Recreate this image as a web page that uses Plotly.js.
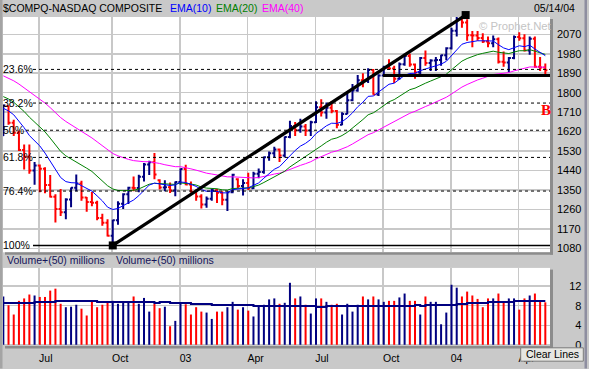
<!DOCTYPE html>
<html><head><meta charset="utf-8">
<script src="https://cdn.plot.ly/plotly-3.0.1.min.js"></script>
<style>html,body{margin:0;padding:0;background:#c9c9c9;overflow:hidden}#chart{width:589px;height:369px}</style>
</head><body><div id="chart"></div>
<script>
// ---------- DATA (weekly bars, week starting Monday) ----------
const dates = ['2002-05-13','2002-05-20','2002-05-27','2002-06-03','2002-06-10','2002-06-17','2002-06-24','2002-07-01','2002-07-08','2002-07-15','2002-07-22','2002-07-29','2002-08-05','2002-08-12','2002-08-19','2002-08-26','2002-09-02','2002-09-09','2002-09-16','2002-09-23','2002-09-30','2002-10-07','2002-10-14','2002-10-21','2002-10-28','2002-11-04','2002-11-11','2002-11-18','2002-11-25','2002-12-02','2002-12-09','2002-12-16','2002-12-23','2002-12-30',
'2003-01-06','2003-01-13','2003-01-20','2003-01-27','2003-02-03','2003-02-10','2003-02-17','2003-02-24','2003-03-03','2003-03-10','2003-03-17','2003-03-24','2003-03-31','2003-04-07','2003-04-14','2003-04-21','2003-04-28','2003-05-05','2003-05-12','2003-05-19','2003-05-26','2003-06-02','2003-06-09','2003-06-16','2003-06-23','2003-06-30','2003-07-07','2003-07-14','2003-07-21','2003-07-28','2003-08-04','2003-08-11','2003-08-18','2003-08-25','2003-09-01','2003-09-08','2003-09-15','2003-09-22','2003-09-29','2003-10-06','2003-10-13','2003-10-20','2003-10-27','2003-11-03','2003-11-10','2003-11-17','2003-11-24','2003-12-01','2003-12-08','2003-12-15','2003-12-22','2003-12-29',
'2004-01-05','2004-01-12','2004-01-19','2004-01-26','2004-02-02','2004-02-09','2004-02-16','2004-02-23','2004-03-01','2004-03-08','2004-03-15','2004-03-22','2004-03-29','2004-04-05','2004-04-12','2004-04-19','2004-04-26','2004-05-03','2004-05-10'];

const open = [1602,1738,1661,1615,1535,1504,1440,1463,1448,1373, 1319,1262,1247,1306,1361,1380,1315,1295,1291,1221, 1199,1139,1210,1287,1331,1361,1359,1411,1468,1479, 1395,1362,1363,1348,1387,1447,1376,1342,1320,1283, 1310,1349,1337,1305,1340,1400,1369,1383,1358,1425, 1434,1502,1520,1538,1510,1595,1646,1626,1644,1625, 1663,1733,1708,1730,1715,1652,1702,1765,1810,1858, 1855,1905,1792,1880,1915,1912,1865,1932,1970,1930, 1893,1960,1937,1949,1951,1973,2006,2086,2140,2124, 2066,2064,2053,2037,2029,2047,1943,1940,1960,2057, 2052,1995,2050,1920,1917];
const high = [1745,1740,1675,1625,1560,1560,1480,1468,1455,1420, 1330,1355,1312,1362,1422,1393,1318,1341,1300,1240, 1215,1213,1298,1335,1365,1413,1421,1475,1485,1521, 1400,1395,1385,1390,1450,1467,1390,1352,1330,1320, 1355,1355,1345,1345,1425,1405,1400,1430,1435,1450, 1505,1528,1550,1542,1598,1670,1665,1680,1655,1670, 1760,1770,1755,1760,1720,1710,1800,1840,1882,1890, 1913,1910,1885,1925,1955,1925,1940,1980,1980,1935, 1965,1995,1955,1965,1975,2010,2100,2150,2154,2140, 2085,2085,2075,2060,2065,2055,1990,1965,2065,2080, 2070,2060,2060,1965,1935];
const low = [1600,1652,1600,1530,1445,1425,1375,1340,1335,1315, 1200,1230,1215,1270,1345,1300,1250,1275,1210,1185, 1135,1108,1190,1262,1285,1345,1340,1390,1420,1400, 1352,1345,1336,1321,1375,1372,1338,1300,1265,1268, 1300,1290,1280,1253,1335,1360,1325,1350,1355,1405, 1425,1485,1500,1480,1500,1590,1600,1615,1600,1600, 1660,1690,1680,1705,1636,1650,1700,1760,1805,1825, 1845,1790,1785,1875,1905,1845,1860,1925,1920,1865, 1885,1925,1900,1900,1925,1950,2000,2060,2100,2040, 2010,2040,2030,2010,2010,1935,1920,1895,1955,2040, 1990,1975,1915,1900,1880];
const close = [1741,1661,1615,1535,1504,1440,1463,1448,1373,1319, 1262,1247,1306,1361,1380,1315,1295,1291,1221,1199, 1139,1210,1287,1331,1361,1359,1411,1468,1479,1422, 1362,1363,1348,1387,1447,1376,1342,1320,1283,1310, 1349,1337,1305,1340,1421,1369,1383,1358,1425,1434, 1502,1520,1538,1510,1595,1646,1626,1644,1625,1663, 1733,1708,1730,1715,1652,1702,1765,1810,1858,1855, 1905,1792,1880,1915,1912,1865,1932,1970,1930,1893, 1960,1937,1949,1951,1973,2006,2086,2140,2124,2066, 2064,2053,2037,2029,2047,1943,1940,1960,2057,2052, 1995,2050,1920,1917,1904];

const ema10 = [1728,1716,1698,1668,1638,1602,1577,1554,1521,1484, 1444,1408,1389,1384,1383,1371,1357,1345,1323,1300, 1271,1260,1265,1277,1292,1304,1324,1350,1373,1382, 1379,1376,1371,1374,1387,1385,1377,1367,1352,1344, 1345,1344,1337,1337,1352,1355,1360,1360,1372,1383, 1405,1426,1446,1458,1483,1512,1533,1553,1566,1584, 1611,1629,1647,1659,1658,1666,1684,1707,1735,1756, 1783,1785,1802,1823,1839,1844,1860,1880,1889,1890, 1902,1909,1916,1922,1932,1945,1971,2002,2024,2032, 2037,2040,2040,2038,2039,2022,2007,1999,2009,2017, 2013,2020,2002,1986,1971];
const ema20 = [1782,1771,1756,1735,1713,1687,1665,1645,1619,1590, 1559,1529,1508,1494,1483,1467,1451,1436,1415,1395, 1370,1355,1348,1347,1348,1349,1355,1366,1377,1381, 1379,1378,1375,1376,1383,1382,1378,1373,1364,1359, 1358,1356,1351,1350,1357,1358,1361,1360,1366,1373, 1385,1398,1411,1421,1437,1457,1473,1490,1502,1518, 1538,1554,1571,1585,1591,1602,1617,1636,1657,1676, 1698,1707,1723,1741,1758,1768,1783,1801,1814,1821, 1834,1844,1854,1863,1874,1886,1905,1928,1946,1958, 1968,1976,1982,1986,1992,1987,1983,1981,1988,1994, 1994,1999,1992,1985,1977];
const ema40 = [1878,1867,1855,1840,1823,1804,1788,1771,1752,1731, 1708,1685,1667,1652,1639,1623,1607,1591,1573,1555, 1535,1519,1508,1499,1492,1486,1482,1481,1481,1478, 1473,1467,1462,1458,1458,1454,1448,1442,1434,1428, 1424,1420,1414,1411,1411,1409,1408,1405,1406,1408, 1412,1418,1424,1428,1436,1446,1455,1464,1472,1481, 1494,1504,1515,1525,1531,1539,1550,1563,1578,1591, 1606,1615,1628,1642,1656,1666,1679,1693,1705,1714, 1726,1736,1746,1756,1767,1779,1794,1811,1826,1838, 1849,1859,1867,1875,1884,1887,1889,1893,1901,1908, 1912,1919,1919,1919,1918];

const volume = [9.9,8.1,6.2,9.0,9.5,10.3,10.1,9.8,9.8,11.1, 11.5,8.4,7.7,7.8,8.2,7.4,6.0,9.0,7.7,8.2, 8.7,9.0,8.4,8.7,8.7,9.9,8.4,9.6,6.8,8.4, 7.5,7.8,3.8,4.9,8.5,8.3,6.2,7.7,6.8,6.6, 5.3,6.8,6.8,7.7,8.8,7.2,7.7,7.0,5.8,7.9, 8.2,9.3,9.5,8.4,8.6,12.7,9.5,9.9,8.2,6.4, 9.5,9.5,8.8,8.2,8.4,6.2,8.4,6.8,8.2,9.9, 9.3,9.9,9.3,8.8,9.0,9.0,9.7,10.5,9.0,9.0, 6.2,9.9,8.8,8.8,4.2,6.6,12.3,11.7,9.9,10.9, 10.1,9.4,7.7,9.5,9.5,10.5,8.6,9.5,9.5,7.2, 9.5,10.1,10.5,9.0,8.7];
const volMA50 = [8.55,8.55,8.55,8.55,8.55,8.55,8.75,8.75,8.75,8.75, 8.96,8.96,8.96,8.96,8.96,8.96,8.96,8.96,8.75,8.75, 8.75,8.75,8.75,8.75,8.75,8.75,8.75,8.75,8.75,8.55, 8.75,8.75,8.55,8.55,8.55,8.55,8.34,8.34,8.34,8.34, 8.14,8.14,8.14,8.14,8.14,8.14,8.14,8.14,7.93,7.93, 7.93,7.93,7.93,7.93,7.93,7.93,7.93,7.93,7.93,7.93, 7.73,7.73,7.93,7.93,7.93,7.93,7.93,7.93,7.93,7.93, 7.93,7.93,7.93,7.93,7.93,7.93,7.93,7.93,7.93,8.14, 7.93,8.14,8.14,8.14,8.14,8.14,8.14,8.34,8.34,8.55, 8.55,8.55,8.55,8.75,8.75,8.75,8.75,8.75,8.96,8.96, 8.96,8.96,8.96,8.96,8.96];

const priceTicks = [1080,1170,1260,1350,1440,1530,1620,1710,1800,1890,1980,2070];
const volTicks = [0,4,8,12];
const volTickText = ['\u2007\u2007\u20070','\u2007\u2007\u20074','\u2007\u2007\u20078','\u2007\u200712'];
const monthTickDates = ['2002-06-30','2002-10-06','2003-01-05','2003-04-06','2003-07-06','2003-10-05','2004-01-04','2004-04-04'];
const monthTickText = ['Jul','Oct','03','Apr','Jul','Oct','04','Apr'];

// user-drawn Fibonacci / trend-line annotations
const fibRatios = [0.236,0.382,0.5,0.618,0.764,1.0];
const fibLabels = ['23.6%','38.2%','50%','61.8%','76.4%','100%'];
const fibLineStartPx = [33,33,26,33,33,33];
const fibHigh = 2159, fibLow = 1094;
const trendStart = '2002-10-07', trendEnd = '2004-01-24';
const supportLevel = 1879, supportStart = '2003-10-05', supportEnd = '2004-05-20';

// ---------- STYLE ----------
const FONT = 'Arial, "Liberation Sans", sans-serif';
const BLUE = '#000080', RED = '#ff0000';
const W = 589, H = 369, ML = 3, MR = 39, MT = 17, MB = 22.5;
const PW = W - ML - MR, PH = H - MT - MB;
const xp = px => (px - ML) / PW;
const yp = py => (H - MB - py) / PH;
const PRICE_RANGE = [1062, 2150];
const PRICE_DOMAIN = [yp(252.7), 1];
// value on the price axis -> paper fraction (used for drawings that may leave the panel)
const priceToPaper = v => PRICE_DOMAIN[0] + (v - PRICE_RANGE[0]) / (PRICE_RANGE[1] - PRICE_RANGE[0]) * (PRICE_DOMAIN[1] - PRICE_DOMAIN[0]);

const up = close.map((c, i) => i === 0 ? c >= open[0] : c > close[i - 1]);
const pick = (arr, want) => arr.filter((_, i) => up[i] === want);

function ohlcTrace(want, color) {
  return {
    type: 'ohlc', xaxis: 'x', yaxis: 'y',
    x: pick(dates, want), open: pick(open, want), high: pick(high, want),
    low: pick(low, want), close: pick(close, want),
    increasing: {line: {color: color, width: 2}},
    decreasing: {line: {color: color, width: 2}},
    tickwidth: 0.4, hoverinfo: 'skip', showlegend: false
  };
}
const lineTrace = (y, color, width, yaxis, shape) => ({
  type: 'scatter', mode: 'lines', x: dates, y: y, xaxis: 'x', yaxis: yaxis,
  line: {color: color, width: width, shape: shape || 'linear'}, hoverinfo: 'skip', showlegend: false
});

const traces = [
  ohlcTrace(true, BLUE),
  ohlcTrace(false, RED),
  lineTrace(ema40, '#ff00ff', 1, 'y'),
  lineTrace(ema20, '#008000', 1, 'y'),
  lineTrace(ema10, '#0000ff', 1, 'y'),
  {type: 'bar', x: dates, y: volume, xaxis: 'x', yaxis: 'y2',
   marker: {color: up.map(u => u ? BLUE : RED), line: {width: 0}},
   width: 2.7 * 86400000, hoverinfo: 'skip', showlegend: false},
  lineTrace(volMA50, BLUE, 2, 'y2', 'hv')
];

const shapes = [];
// panel shadows and borders
const shade = '#8c8c8c';
shapes.push({type: 'rect', xref: 'paper', yref: 'paper', x0: 1, x1: xp(553), y0: yp(255), y1: yp(19), fillcolor: shade, line: {width: 0}, layer: 'below'});
shapes.push({type: 'rect', xref: 'paper', yref: 'paper', x0: xp(5), x1: xp(553), y0: yp(255), y1: yp(252.7), fillcolor: shade, line: {width: 0}, layer: 'below'});
shapes.push({type: 'rect', xref: 'paper', yref: 'paper', x0: 1, x1: xp(553), y0: yp(349), y1: yp(270), fillcolor: shade, line: {width: 0}, layer: 'below'});
shapes.push({type: 'rect', xref: 'paper', yref: 'paper', x0: xp(5), x1: xp(553), y0: yp(349), y1: 0, fillcolor: shade, line: {width: 0}, layer: 'below'});
shapes.push({type: 'rect', xref: 'paper', yref: 'paper', x0: xp(0), x1: xp(2.5), y0: yp(369), y1: yp(0), fillcolor: '#a4a4a4', line: {width: 0}});
shapes.push({type: 'rect', xref: 'paper', yref: 'paper', x0: xp(584.5), x1: xp(587), y0: yp(369), y1: yp(0), fillcolor: '#8e8ea0', line: {width: 0}});

// fibonacci retracement lines
fibRatios.forEach((r, i) => {
  const v = fibHigh - r * (fibHigh - fibLow);
  shapes.push({type: 'line', xref: 'paper', yref: 'y', x0: xp(fibLineStartPx[i]), x1: 1, y0: v, y1: v,
    line: {color: '#000', width: r === 1 ? 1.5 : 1, dash: r === 1 ? 'solid' : '3px,3px'}});
});
// trend line (may run slightly above the panel) and its two anchor squares
shapes.push({type: 'line', xref: 'x', yref: 'paper', x0: trendStart, y0: priceToPaper(fibLow), x1: trendEnd, y1: priceToPaper(fibHigh), line: {color: '#000', width: 3.2}});
[[trendStart, fibLow], [trendEnd, fibHigh]].forEach(p => {
  shapes.push({type: 'rect', xref: 'x', yref: 'paper', xsizemode: 'pixel', ysizemode: 'pixel',
    xanchor: p[0], yanchor: priceToPaper(p[1]), x0: -4, x1: 4, y0: -4, y1: 4,
    fillcolor: '#000', line: {width: 0}});
});
// support line
shapes.push({type: 'line', xref: 'x', yref: 'y', x0: supportStart, y0: supportLevel, x1: supportEnd, y1: supportLevel, line: {color: '#000', width: 3}});
// "Clear Lines" button
shapes.push({type: 'rect', xref: 'paper', yref: 'paper', x0: xp(520.7), x1: xp(583.3), y0: yp(361.7), y1: yp(348.3), fillcolor: '#e6e6e2', line: {color: '#7a7a7a', width: 1}});

const ann = (text, x, y, opts) => Object.assign({
  text: text, x: x, y: y, xref: 'paper', yref: 'paper', showarrow: false,
  xanchor: 'left', yanchor: 'middle', borderpad: 0, borderwidth: 0,
  font: {family: FONT, size: 10.5, color: '#000'}
}, opts || {});

const annotations = [
  ann('$COMPQ-NASDAQ COMPOSITE', xp(3.3), yp(8)),
  ann('EMA(10)', xp(170), yp(8), {font: {family: FONT, size: 10.5, color: '#0000ff'}}),
  ann('EMA(20)', xp(216), yp(8), {font: {family: FONT, size: 10.5, color: '#008000'}}),
  ann('EMA(40)', xp(261.7), yp(8), {font: {family: FONT, size: 10.5, color: '#ff00ff'}}),
  ann('05/14/04', xp(575), yp(8), {xanchor: 'right'}),
  ann('Volume+(50) millions', xp(6.7), yp(260.5), {font: {family: FONT, size: 10.5, color: '#14145a'}}),
  ann('Volume+(50) millions', xp(116), yp(260.5), {font: {family: FONT, size: 10.5, color: '#14145a'}}),
  ann('\u00a9 Prophet.Net', xp(552), yp(26), {xanchor: 'right', font: {family: FONT, size: 11.3, color: '#c4c4c4'}}),
  ann('<b>B</b>', xp(546), 1720, {yref: 'y', xanchor: 'center', font: {family: '"Times New Roman", "Liberation Serif", serif', size: 15, color: '#ff0000'}}),
  ann('Clear Lines', xp(552), yp(355), {xanchor: 'center', font: {family: FONT, size: 10.5, color: '#000'}})
];
fibRatios.forEach((r, i) => {
  annotations.push(ann(fibLabels[i], xp(3.3), fibHigh - r * (fibHigh - fibLow), {yref: 'y'}));
});

const layout = {
  width: W, height: H,
  margin: {l: ML, r: MR, t: MT, b: MB, pad: 0},
  paper_bgcolor: '#c9c9c9', plot_bgcolor: '#ffffff',
  showlegend: false, hovermode: false,
  font: {family: FONT, size: 11, color: '#000'},
  xaxis: {
    type: 'date', anchor: 'y2', range: ['2002-05-12 14:00', '2004-05-16 07:00'],
    rangeslider: {visible: false},
    tickmode: 'array', tickvals: monthTickDates, ticktext: monthTickText,
    ticklabelposition: 'outside right', ticks: '', ticklabelstandoff: 4,
    showgrid: true, gridcolor: '#c8c8c8', gridwidth: 1.5, zeroline: false, showline: false,
    tickfont: {family: FONT, size: 10.5, color: '#000'}
  },
  yaxis: {
    domain: PRICE_DOMAIN, range: PRICE_RANGE, side: 'right',
    tickmode: 'array', tickvals: priceTicks, ticks: '', ticklabelstandoff: 6,
    showgrid: true, gridcolor: '#c8c8c8', gridwidth: 1.5, zeroline: false, showline: false,
    tickfont: {family: FONT, size: 11, color: '#000'}
  },
  yaxis2: {
    domain: [0, yp(268.3)], range: [-0.25, 15.75], side: 'right', anchor: 'x',
    tickmode: 'array', tickvals: volTicks, ticktext: volTickText, ticks: '', ticklabelstandoff: 6,
    showgrid: true, gridcolor: '#c8c8c8', gridwidth: 1.5, zeroline: false, showline: false,
    tickfont: {family: FONT, size: 11, color: '#000'}
  },
  shapes: shapes,
  annotations: annotations
};

Plotly.newPlot('chart', traces, layout, {staticPlot: true, displayModeBar: false});
</script>
</body></html>
